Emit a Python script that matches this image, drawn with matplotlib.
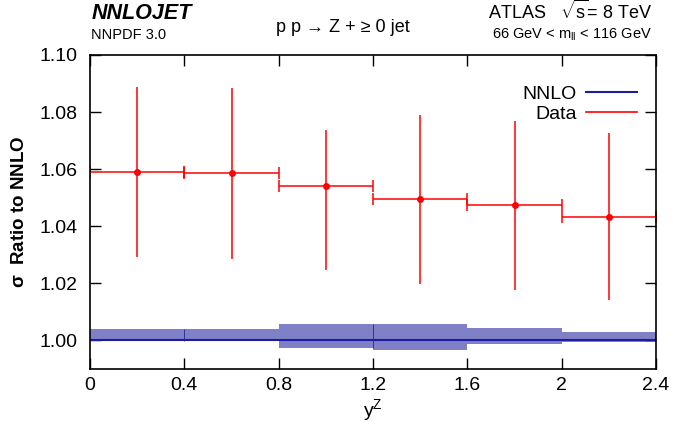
import numpy as np
import matplotlib
matplotlib.use('Agg')
import matplotlib.pyplot as plt

plt.rcParams['font.family'] = ['Liberation Sans', 'DejaVu Sans']
plt.rcParams['mathtext.fontset'] = 'custom'
plt.rcParams['mathtext.rm'] = 'Liberation Sans'
plt.rcParams['mathtext.it'] = 'Liberation Sans:italic'
plt.rcParams['mathtext.bf'] = 'Liberation Sans:bold'

# ATLAS 8 TeV Z rapidity, ratio to NNLO
y_edges = [0.0, 0.4, 0.8, 1.2, 1.6, 2.0, 2.4]
data_ratio = [1.0591, 1.0585, 1.0542, 1.0494, 1.0473, 1.0432]
data_err_up = [0.0296, 0.0298, 0.0197, 0.0295, 0.0295, 0.0295]
data_err_dn = [0.0298, 0.0298, 0.0296, 0.0295, 0.0295, 0.0290]
nnlo_hi = [1.0041, 1.0041, 1.0059, 1.0059, 1.0045, 1.0031]
nnlo_lo = [0.9999, 0.9999, 0.9975, 0.9968, 0.9989, 0.9996]

edges = np.array(y_edges)
lo_e, hi_e = edges[:-1], edges[1:]
centres = 0.5 * (lo_e + hi_e)
halfw = 0.5 * (hi_e - lo_e)

W, H = 673, 434
fig = plt.figure(figsize=(W / 100, H / 100), dpi=100)
ax = fig.add_axes([90 / W, 1 - 369 / H, (656 - 90) / W, (369 - 55) / H])

band_col = '#8080c6'
line_col = '#1c1ca0'
red = '#ff0000'

# NNLO scale band, one box per bin
for a, b, lo, hi in zip(lo_e, hi_e, nnlo_lo, nnlo_hi):
    ax.fill_between([a, b], lo, hi, color=band_col, lw=0)
ax.vlines([0.4, 1.2], [nnlo_lo[0], nnlo_lo[2]], [nnlo_hi[0], nnlo_hi[2]],
          color=line_col, lw=0.7, alpha=0.8)
ax.plot([edges[0], edges[-1]], [1.0, 1.0], color=line_col, lw=1.5,
        label='NNLO')

# data: vertical errors without caps, bin widths with caps
ax.errorbar(centres, data_ratio, yerr=[data_err_dn, data_err_up],
            fmt='none', ecolor=red, elinewidth=1.1, capsize=0)
ax.errorbar(centres, data_ratio, xerr=halfw, fmt='none', ecolor=red,
            elinewidth=1.1, capsize=4, capthick=1.1)
ax.plot(centres, data_ratio, 'o', color=red, ms=5, mew=0)
ax.plot([], [], color=red, lw=1.2, label='Data')

ax.set_xlim(0, 2.4)
ax.set_ylim(0.99, 1.10)
ax.set_xticks([0, 0.4, 0.8, 1.2, 1.6, 2.0, 2.4])
ax.set_xticklabels(['0', '0.4', '0.8', '1.2', '1.6', '2', '2.4'])
ax.set_yticks(np.arange(1.00, 1.101, 0.02))
ax.set_yticklabels([f'{v:.2f}' for v in np.arange(1.00, 1.101, 0.02)])
ax.tick_params(direction='in', length=8, width=1, labelsize=14,
               top=True, right=True)
ax.tick_params(axis='x', pad=6)
ax.tick_params(axis='y', pad=9)
for s in ax.spines.values():
    s.set_linewidth(1.2)

ax.set_xlabel(r'y$^{\mathrm{Z}}$', fontsize=14, labelpad=2)
ax.set_ylabel(r'$\mathbf{\sigma}$  Ratio to NNLO', fontsize=13.5,
              fontweight='bold', labelpad=8)

ax.legend(loc='upper right', bbox_to_anchor=(0.997, 0.96), frameon=False,
          markerfirst=False, fontsize=14, handlelength=2.6,
          handletextpad=0.5, labelspacing=0.15)

def ftext(x, y, s, **kw):
    fig.text(x / W, 1 - y / H, s, va='baseline', **kw)

ftext(92, 19, 'NNLOJET', fontsize=15.5, fontweight='bold', style='italic')
ftext(91, 39, 'NNPDF 3.0', fontsize=10.5)
ftext(276, 32, r'p p → Z + ≥ 0 jet', fontsize=13)
ftext(652, 19, r'ATLAS   $\sqrt{\mathrm{s}}$= 8 TeV', fontsize=13, ha='right')
ftext(652, 39, r'66 GeV < m$_{\mathrm{ll}}$ < 116 GeV', fontsize=10.5, ha='right')

fig.savefig('out.png', dpi=100)
